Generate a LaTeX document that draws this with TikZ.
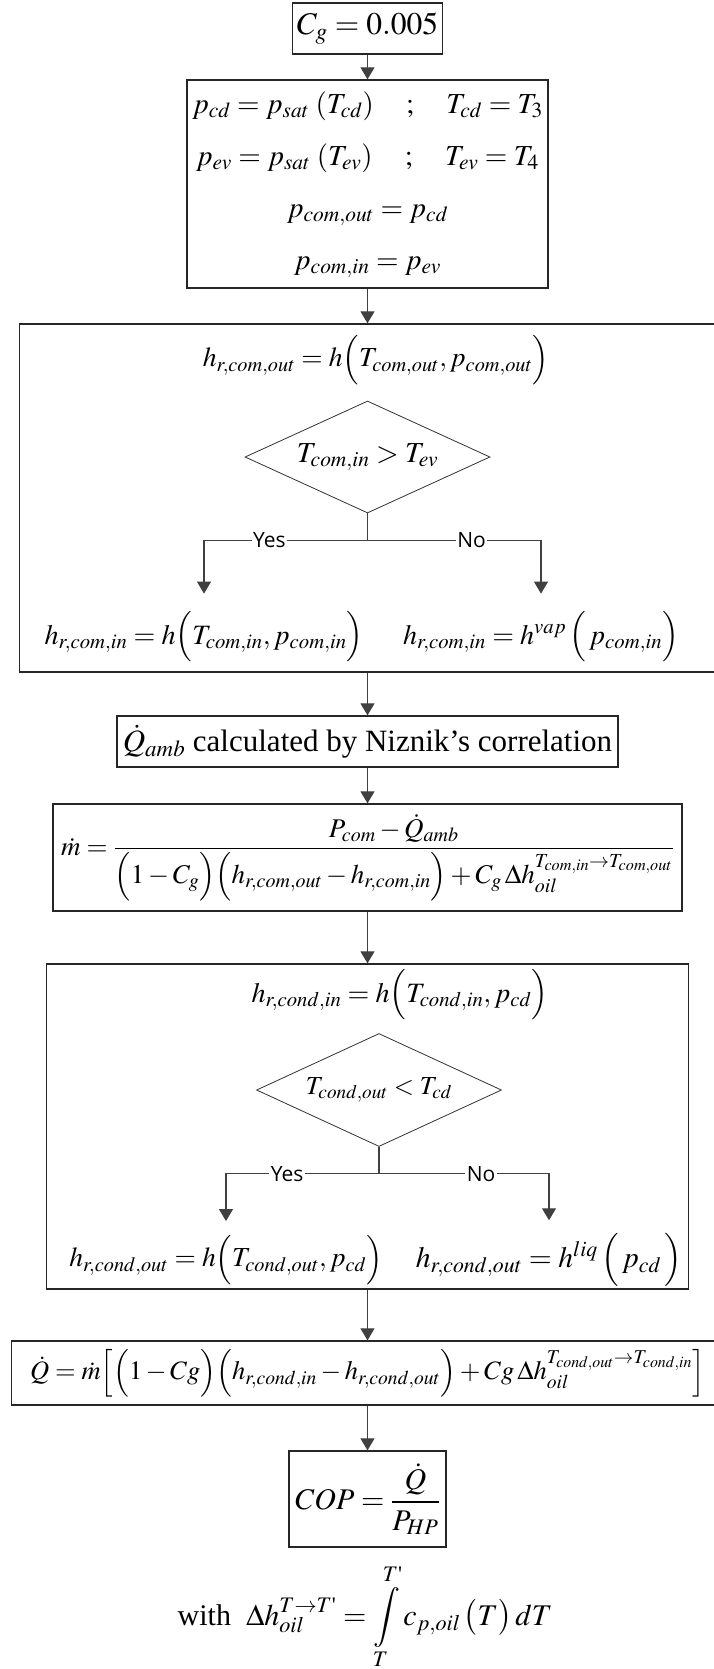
\documentclass[tikz,border=0pt]{standalone}
\usepackage{amsmath}
\usepackage{mathptmx}
\usepackage{fontspec}
\setmainfont{Liberation Serif}
\newfontfamily\labelfont{Open Sans}
\usetikzlibrary{shapes.geometric, arrows.meta, positioning}

\begin{document}
\begin{tikzpicture}[
      x=1pt, y=1pt,
      fs/.style={font=\fontsize{#1}{36}\selectfont},
      box/.style={rectangle, draw=black!85, line width=1.3pt, inner sep=0pt, align=center, fs=30},
      eq/.style={inner sep=0pt, fs=28},
      decision/.style={diamond, draw=black!80, line width=0.8pt, aspect=2.2, inner sep=1pt, fs=29},
      yesno/.style={fill=white, inner sep=1.5pt, font=\labelfont\fontsize{21}{24}\selectfont},
      line/.style={draw=black!75, line width=1.1pt},
      arrow/.style={line, -{Triangle[width=14pt, length=12pt]}}
    ]
    \path[use as bounding box, fill=white] (0,0) rectangle (714,-1669);

    % Nodes
    \node (cg) [box, fs=31.5, minimum width=150pt, minimum height=51pt] at (367.5,-28.5) {$C_g = 0.005$};
    \node (sat) [box, fs=29, minimum width=353pt, minimum height=208pt] at (367.5,-184) {$\begin{array}{c}
        p_{cd} = p_{sat}\,\left(T_{cd}\right) \quad ; \quad T_{cd} = T_3\\[16pt]
        p_{ev} = p_{sat}\,\left(T_{ev}\right) \quad ; \quad T_{ev} = T_4\\[16pt]
        p_{com,out} = p_{cd}\\[16pt]
        p_{com,in} = p_{ev}
      \end{array}$};

    % Compressor inlet
    \node (comp) [box, minimum width=696pt, minimum height=348pt] at (367.5,-498) {};
    \node (hout) [eq, fs=27.5] at (376,-360) {$h_{r,com,out} = h\Bigl(T_{com,out}, p_{com,out}\Bigr)$};
    \node (inlet) [decision, minimum width=245pt, minimum height=112pt] at (367.5,-457) {$T_{com,in} > T_{ev}$};
    \node (hinyes) [eq, inner ysep=18pt] at (204,-637) {$h_{r,com,in} = h\Bigl(T_{com,in}, p_{com,in}\Bigr)$};
    \node (hinno) [eq, inner ysep=18pt] at (541,-637) {$h_{r,com,in} = h^{vap}\,\Bigl(\,p_{com,in}\Bigr)$};

    \node (qamb) [box, fs=31, minimum width=501pt, minimum height=51pt] at (367.5,-741.5) {$\dot{Q}_{amb}$ calculated by Niznik's correlation};
    \node (mdot) [box, fs=27, minimum width=629pt, minimum height=107pt] at (367.5,-857.5) {$\dot{m} = \dfrac{P_{com} - \dot{Q}_{amb}}{\Bigl(1-C_g\Bigr)\Bigl(h_{r,com,out} - h_{r,com,in}\Bigr) + C_g\,\Delta h_{oil}^{T_{com,in}\to T_{com,out}}}$};

    % Condenser outlet
    \node (cond) [box, minimum width=642pt, minimum height=325pt] at (367.5,-1126.5) {};
    \node (hcin) [eq] at (400,-995) {$h_{r,cond,in} = h\Bigl(T_{cond,in}, p_{cd}\Bigr)$};
    \node (outlet) [decision, fs=26, minimum width=245pt, minimum height=113pt] at (379,-1090) {$T_{cond,out} < T_{cd}$};
    \node (hcoutyes) [eq, fs=27.5, inner ysep=14pt] at (226,-1260) {$h_{r,cond,out} = h\Bigl(T_{cond,out}, p_{cd}\Bigr)$};
    \node (hcoutno) [eq, fs=29.5, inner ysep=13pt] at (549,-1260) {$h_{r,cond,out} = h^{liq}\,\Bigl(\,p_{cd}\,\Bigr)$};

    \node (qdot) [box, fs=26.5, minimum width=712pt, minimum height=64pt] at (367.5,-1373) {$\dot{Q} = \dot{m}\Bigl[\Bigl(1-Cg\Bigr)\Bigl(h_{r,cond,in} - h_{r,cond,out}\Bigr) + Cg\,\Delta h_{oil}^{T_{cond,out}\to T_{cond,in}}\Bigr]$};
    \node (cop) [box, minimum width=157pt, minimum height=96pt] at (367.5,-1499) {$COP = \dfrac{\dot{Q}}{P_{HP}}$};

    \node (note) [eq, fs=30] at (365,-1617) {with\ \ $\displaystyle\Delta h_{oil}^{T\to T\text{\textquotesingle}} = \int\limits_T^{T\text{\textquotesingle}} c_{p,oil}\,\bigl(T\bigr)\,dT$};

    % Connections
    \draw [arrow] (cg) -- (sat);
    \draw [arrow] (sat) -- (comp);
    \draw [arrow] (comp) -- (qamb);
    \draw [arrow] (qamb) -- (mdot);
    \draw [arrow] (mdot) -- (cond);
    \draw [arrow] (cond) -- (qdot);
    \draw [arrow] (qdot) -- (cop);

    % Branches
    \draw [line] (inlet.south) -- ++(0,-27) coordinate (fork1);
    \draw [arrow] (fork1) -| node[yesno, pos=0.3] {Yes} (hinyes);
    \draw [arrow] (fork1) -| node[yesno, pos=0.3] {No} (hinno);
    \draw [line] (outlet.south) -- ++(0,-27) coordinate (fork2);
    \draw [arrow] (fork2) -| node[yesno, pos=0.3] {Yes} (hcoutyes);
    \draw [arrow] (fork2) -| node[yesno, pos=0.3] {No} (hcoutno);

  \end{tikzpicture}
\end{document}
